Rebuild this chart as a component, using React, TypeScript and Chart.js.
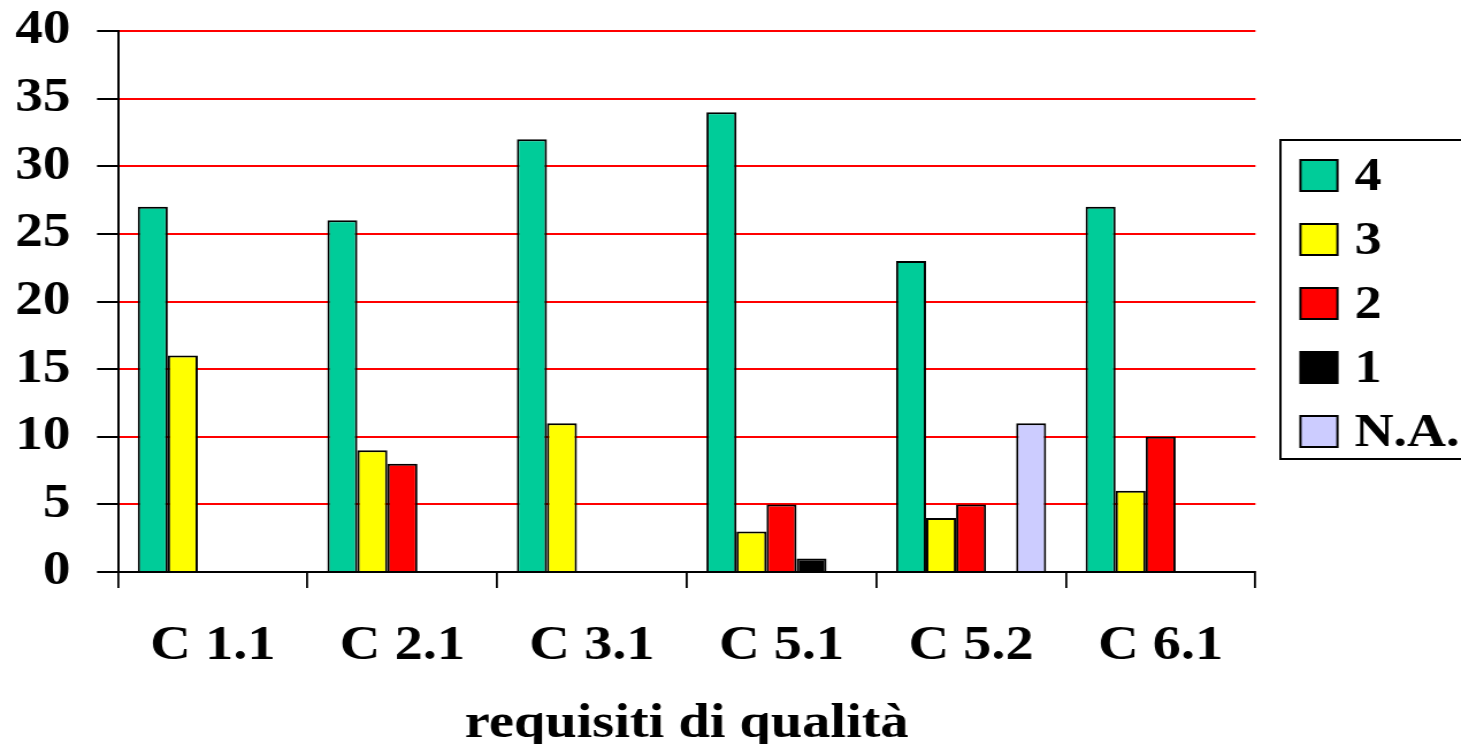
import React, { useEffect, useRef } from "react";
import { Chart, registerables } from "chart.js";

Chart.register(...registerables);

const categories = ["C 1.1", "C 2.1", "C 3.1", "C 5.1", "C 5.2", "C 6.1"];
const seriesLabels = ["4", "3", "2", "1", "N.A."];
const values4 = [27, 26, 32, 34, 23, 27];
const values3 = [16, 9, 11, 3, 4, 6];
const values2 = [0, 8, 0, 5, 5, 10];
const values1 = [0, 0, 0, 1, 0, 0];
const valuesNA = [0, 0, 0, 0, 11, 0];
const seriesColors = ["#00CC99", "#FFFF00", "#FF0000", "#000000", "#CCCCFF"];
const yTicks = { min: 0, max: 40, step: 5 };
const xTitle = "requisiti di qualità";

// horizontal stretch of the reference rendering
const S = 1.15;
const W = Math.round(1461 / S);
const H = 744;
const FONT = "'Liberation Serif', 'Times New Roman', serif";

const legendPlugin = {
  id: "boxLegend",
  afterDraw(chart: any) {
    const ctx = chart.ctx;
    const left = 1280 / S;
    const top = 140;
    const bottom = 459;
    ctx.save();
    ctx.lineWidth = 2;
    ctx.strokeStyle = "#000";
    ctx.strokeRect(left, top, W - left + 20, bottom - top);
    const sw = 37 / S;
    const sh = 31;
    const sx = 1300 / S;
    const tx = 1354 / S;
    ctx.font = `bold 47px ${FONT}`;
    ctx.textBaseline = "middle";
    ctx.textAlign = "left";
    chart.data.datasets.forEach((ds: any, i: number) => {
      const cy = 175.5 + i * 64;
      ctx.fillStyle = ds.backgroundColor;
      ctx.fillRect(sx, cy - sh / 2, sw, sh);
      ctx.lineWidth = 2;
      ctx.strokeStyle = "#000";
      ctx.strokeRect(sx, cy - sh / 2, sw, sh);
      ctx.fillStyle = "#000";
      ctx.fillText(ds.label, tx, cy + 2);
    });
    ctx.restore();
  },
};

export default function App() {
  const ref = useRef<HTMLCanvasElement>(null);
  useEffect(() => {
    document.body.style.margin = "0";
    const allValues = [values4, values3, values2, values1, valuesNA];
    const chart = new Chart(ref.current!, {
      type: "bar",
      data: {
        labels: categories,
        datasets: allValues.map((v, i) => ({
          label: seriesLabels[i],
          data: v,
          backgroundColor: seriesColors[i],
          borderColor: "#000",
          borderWidth: 2,
          categoryPercentage: 0.792,
          barPercentage: 1,
        })),
      },
      options: {
        animation: false,
        responsive: false,
        devicePixelRatio: 1,
        layout: { padding: { top: 31, right: W - 1255 / S, left: 0, bottom: 0 } },
        plugins: {
          legend: { display: false },
          tooltip: { enabled: false },
        },
        scales: {
          x: {
            afterFit: (s: any) => {
              s.height = H - 572;
            },
            grid: {
              drawOnChartArea: false,
              drawTicks: true,
              tickLength: 16,
              tickColor: "#000",
              lineWidth: 1.8,
            },
            border: { color: "#000", width: 2 },
            ticks: {
              color: "#000",
              padding: 29,
              font: { family: FONT, size: 49, weight: "bold" },
            },
            title: {
              display: true,
              text: xTitle,
              color: "#000",
              padding: { top: 0, bottom: -10 },
              font: { family: FONT, size: 49, weight: "bold" },
            },
          },
          y: {
            min: yTicks.min,
            max: yTicks.max,
            afterFit: (s: any) => {
              s.width = 118 / S;
              s.paddingTop = 0;
              s.paddingBottom = 0;
            },
            grid: {
              color: "#FF0000",
              lineWidth: 2,
              tickColor: "#000",
              tickLength: 21 / S,
            },
            border: { color: "#000", width: 2 },
            ticks: {
              stepSize: yTicks.step,
              color: "#000",
              padding: 23,
              font: { family: FONT, size: 48, weight: "bold" },
            },
          },
        },
      },
      plugins: [legendPlugin],
    });
    return () => chart.destroy();
  }, []);
  return (
    <canvas
      ref={ref}
      width={W}
      height={H}
      style={{ width: "1461px", height: "744px", display: "block" }}
    />
  );
}
